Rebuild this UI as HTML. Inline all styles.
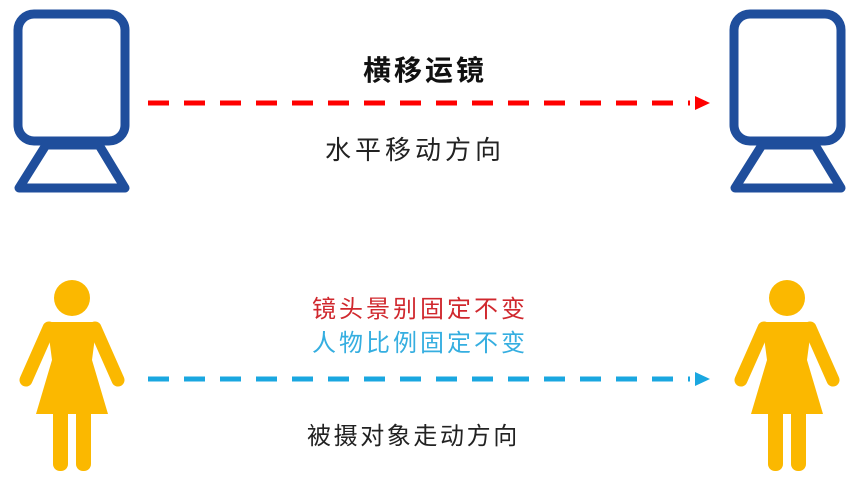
<!DOCTYPE html>
<html><head><meta charset="utf-8"><style>
html,body{margin:0;padding:0;background:#fff;}
body{width:858px;height:476px;overflow:hidden;}
svg text{font-family:"Liberation Sans","Noto Sans CJK SC",sans-serif;}
</style></head><body>
<svg width="858" height="476" viewBox="0 0 858 476" xmlns="http://www.w3.org/2000/svg">
<defs>
<g id="cam" fill="none" stroke="#1f4e9c" stroke-width="9" stroke-linejoin="round">
<rect x="18" y="14" width="107" height="127" rx="16"/>
<polygon points="46,145 99,145 125,188 19,188"/>
</g>
<g id="person" fill="#fbb800">
<circle cx="72" cy="298" r="18"/>
<polygon points="47,322 97,322 92,360 108,414 36,414 52,360"/>
<line x1="49" y1="328" x2="26" y2="380" stroke="#fbb800" stroke-width="13" stroke-linecap="round"/>
<line x1="95" y1="328" x2="118" y2="380" stroke="#fbb800" stroke-width="13" stroke-linecap="round"/>
<rect x="53" y="405" width="15" height="66" rx="7"/>
<rect x="76" y="405" width="15" height="66" rx="7"/>
</g>
</defs>
<use href="#cam"/>
<use href="#cam" transform="translate(716,0)"/>
<use href="#person"/>
<use href="#person" transform="translate(715,0)"/>

<line x1="148" y1="103" x2="690" y2="103" stroke="#f00" stroke-width="5" stroke-dasharray="21 15"/>
<polygon points="695,96 710,103 695,110" fill="#f00"/>
<line x1="148" y1="379" x2="690" y2="379" stroke="#1aa7e0" stroke-width="5" stroke-dasharray="21 15"/>
<polygon points="695,372 710,379 695,386" fill="#1aa7e0"/>

<text x="363" y="80" font-size="28" font-weight="bold" letter-spacing="3" fill="#111">横移运镜</text>
<text x="325" y="159" font-size="26" letter-spacing="4" fill="#222">水平移动方向</text>
<text x="312" y="317" font-size="24" letter-spacing="3" fill="#d0282e">镜头景别固定不变</text>
<text x="312" y="351" font-size="24" letter-spacing="3" fill="#35aee0">人物比例固定不变</text>
<text x="307" y="444" font-size="24" letter-spacing="2.6" fill="#222">被摄对象走动方向</text>
</svg>
</body></html>
